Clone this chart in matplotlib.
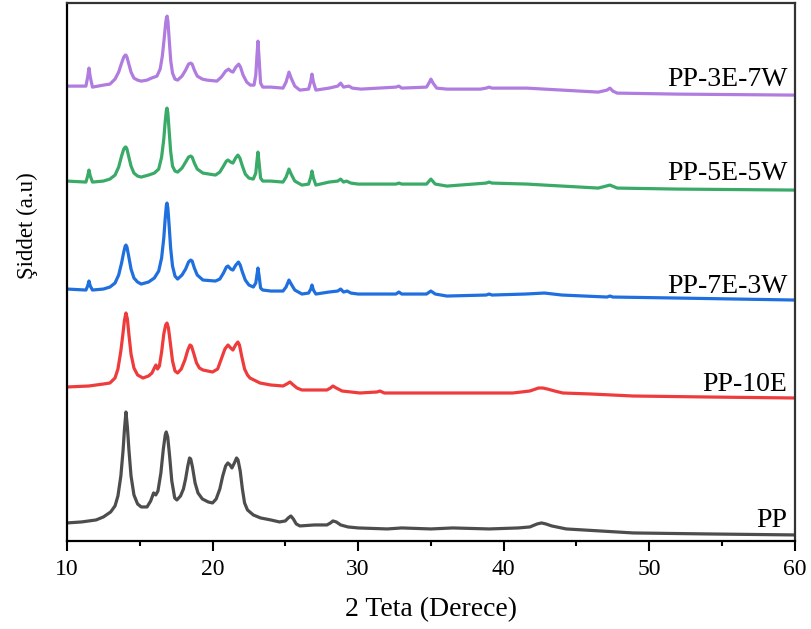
import numpy as np
import matplotlib
matplotlib.use("Agg")
import matplotlib.pyplot as plt
from matplotlib.ticker import MultipleLocator, NullLocator

plt.rcParams['font.family'] = ['Liberation Serif', 'DejaVu Serif']

# okunan egriler: (2 teta, siddet a.u.)
pp_x = [10.0, 11.0, 12.0, 12.5, 13.0, 13.3, 13.5, 13.7, 13.85, 13.95, 14.05, 14.15, 14.25, 14.4,
        14.6, 14.85, 15.1, 15.5, 15.75, 15.95, 16.1, 16.25, 16.45, 16.62, 16.75, 16.82, 16.92,
        17.05, 17.2, 17.4, 17.55, 17.8, 18.0, 18.15, 18.3, 18.42, 18.5, 18.62, 18.8, 19.0, 19.3,
        19.7, 20.0, 20.25, 20.5, 20.7, 20.9, 21.05, 21.2, 21.33, 21.5, 21.65, 21.75, 21.9, 22.05,
        22.2, 22.4, 22.8, 23.3, 24.0, 24.6, 25.0, 25.2, 25.38, 25.55, 25.75, 26.0, 27.0, 27.86,
        28.1, 28.27, 28.5, 28.8, 29.3, 30.0, 32.0, 33.0, 35.0, 36.5, 39.0, 41.0, 41.8, 42.3,
        42.6, 42.9, 43.3, 44.3, 46.6, 48.9, 54.0, 60.0]
pp_y = [18, 19, 21, 24, 29, 35, 45, 65, 90, 112, 129, 114, 92, 65,
        46, 37, 34, 34, 40, 48, 46, 50, 68, 92, 106, 109, 104,
        85, 60, 43, 41, 45, 52, 62, 75, 83, 82, 74, 58, 48, 42,
        39, 38, 42, 52, 65, 75, 78, 76, 73, 78, 83, 81, 70, 52,
        38, 31, 26, 23, 21, 19, 20, 23, 25, 22, 17, 15, 16, 16,
        18, 20, 19, 16, 14, 13, 12, 13, 12, 13, 12, 13, 14, 17,
        18, 17, 15, 12, 10, 8, 7, 6]

pp10e_x = [10.0, 11.5, 12.5, 12.95, 13.3, 13.5, 13.7, 13.85, 13.95, 14.05, 14.15, 14.25, 14.4,
           14.6, 14.85, 15.22, 15.6, 15.84, 16.0, 16.11, 16.22, 16.35, 16.5, 16.65, 16.78, 16.87,
           16.97, 17.1, 17.25, 17.42, 17.6, 17.85, 18.1, 18.3, 18.45, 18.55, 18.7, 18.9, 19.1,
           19.34, 20.0, 20.35, 20.6, 20.85, 21.06, 21.25, 21.4, 21.58, 21.74, 21.85, 22.0, 22.2,
           22.4, 22.57, 23.26, 24.0, 24.84, 25.1, 25.32, 25.55, 25.8, 26.14, 27.0, 27.86, 28.1,
           28.27, 28.5, 28.9, 30.12, 31.3, 31.5, 31.8, 35.0, 40.63, 41.8, 42.4, 42.69, 43.0,
           43.5, 44.07, 46.0, 48.87, 54.0, 60.0]
pp10e_y = [154, 155, 157, 158, 163, 172, 190, 208, 221, 228, 222, 207, 187,
           173, 166, 163, 165, 168, 173, 176, 172, 175, 189, 207, 216, 218,
           213, 198, 180, 170, 168, 172, 181, 191, 196, 195, 188, 178, 173,
           171, 169, 172, 182, 192, 196, 193, 191, 196, 199, 196, 185, 172,
           166, 163, 158, 156, 155, 157, 159, 156, 153, 151, 151, 151, 153,
           155, 153, 150, 148, 149, 150, 148, 148, 148, 150, 153, 153, 152,
           150, 148, 147, 145, 144, 143]

pp7e_x = [10.0, 11.3, 11.42, 11.51, 11.6, 11.75, 12.5, 12.95, 13.3, 13.55, 13.75, 13.9, 14.0,
          14.05, 14.12, 14.25, 14.4, 14.6, 14.85, 15.1, 15.6, 16.0, 16.3, 16.5, 16.65, 16.75,
          16.83, 16.87, 16.93, 17.02, 17.12, 17.25, 17.42, 17.6, 17.9, 18.15, 18.35, 18.5, 18.6,
          18.75, 18.95, 19.34, 20.2, 20.5, 20.75, 20.95, 21.06, 21.25, 21.4, 21.6, 21.78, 21.9,
          22.05, 22.25, 22.5, 22.8, 22.97, 23.05, 23.12, 23.2, 23.3, 23.45, 24.0, 24.84, 25.05,
          25.25, 25.4, 25.65, 26.14, 26.6, 26.75, 26.83, 26.93, 27.1, 28.0, 28.6, 28.8, 29.0,
          29.25, 29.5, 30.0, 32.6, 32.8, 33.0, 34.7, 35.0, 35.3, 36.1, 38.8, 39.0, 39.2, 41.5,
          42.8, 44.0, 47.1, 47.3, 47.5, 51.9, 60.0]
pp7e_y = [252, 251, 255, 260, 255, 251, 252, 254, 258, 266, 278, 289, 295,
          296, 294, 284, 272, 263, 259, 257, 259, 263, 270, 283, 303, 323,
          336, 338, 333, 315, 293, 275, 265, 262, 266, 272, 279, 281, 280,
          273, 266, 261, 260, 262, 268, 274, 275, 272, 271, 276, 279, 276,
          269, 261, 256, 254, 258, 266, 273, 265, 253, 251, 250, 250, 254,
          261, 257, 251, 247, 248, 252, 256, 251, 247, 249, 250, 252, 249,
          250, 248, 247, 247, 249, 247, 247, 250, 247, 245, 246, 247, 246, 247,
          248, 246, 244, 245, 244, 243, 241]

pp5e_x = [10.0, 11.3, 11.42, 11.51, 11.6, 11.75, 12.5, 12.95, 13.3, 13.55, 13.75, 13.9, 14.0,
          14.05, 14.12, 14.25, 14.4, 14.6, 14.85, 15.1, 15.6, 16.0, 16.3, 16.5, 16.65, 16.75,
          16.83, 16.87, 16.93, 17.02, 17.12, 17.25, 17.42, 17.6, 17.9, 18.15, 18.35, 18.5, 18.6,
          18.75, 18.95, 19.34, 20.2, 20.5, 20.75, 20.95, 21.06, 21.25, 21.4, 21.58, 21.74, 21.88,
          22.05, 22.25, 22.5, 22.8, 22.97, 23.05, 23.12, 23.2, 23.3, 23.45, 24.0, 24.84, 25.05,
          25.25, 25.4, 25.65, 26.14, 26.6, 26.75, 26.83, 26.93, 27.1, 28.0, 28.6, 28.8, 29.0,
          29.2, 29.5, 30.0, 32.6, 32.8, 33.0, 34.7, 35.0, 35.3, 36.1, 38.8, 39.0, 39.2, 41.6,
          42.8, 46.5, 47.3, 47.8, 51.9, 60.0]
pp5e_y = [360, 359, 365, 371, 365, 359, 360, 362, 366, 374, 385, 392, 394,
          394, 392, 384, 375, 368, 365, 364, 366, 368, 372, 384, 402, 420,
          431, 433, 428, 410, 390, 375, 370, 369, 373, 379, 384, 385, 384,
          378, 372, 368, 366, 369, 375, 380, 381, 379, 378, 383, 386, 383,
          375, 367, 363, 362, 368, 380, 389, 378, 363, 360, 360, 359, 364,
          372, 367, 360, 356, 357, 364, 370, 363, 356, 359, 360, 362, 359,
          360, 358, 357, 357, 358, 357, 357, 362, 357, 355, 358, 359, 358, 357,
          356, 353, 356, 353, 352, 351]

pp3e_x = [10.0, 11.3, 11.42, 11.51, 11.6, 11.75, 12.5, 12.95, 13.3, 13.55, 13.75, 13.9, 14.0,
          14.05, 14.12, 14.25, 14.4, 14.6, 14.85, 15.1, 15.5, 15.8, 16.18, 16.4, 16.55, 16.68,
          16.78, 16.84, 16.88, 16.94, 17.03, 17.13, 17.25, 17.42, 17.6, 17.9, 18.15, 18.35, 18.5,
          18.6, 18.75, 18.95, 19.3, 19.62, 20.3, 20.6, 20.9, 21.1, 21.25, 21.4, 21.6, 21.8, 21.92,
          22.1, 22.35, 22.6, 22.85, 22.97, 23.05, 23.12, 23.2, 23.3, 23.45, 24.0, 24.84, 25.05,
          25.25, 25.4, 25.65, 26.0, 26.6, 26.75, 26.83, 26.93, 27.1, 28.0, 28.6, 28.8, 29.0,
          29.37, 29.6, 30.2, 32.6, 32.8, 33.0, 34.7, 34.9, 35.0, 35.15, 35.4, 36.1, 38.4, 38.8,
          39.0, 39.2, 41.6, 42.8, 46.5, 47.1, 47.3, 47.5, 47.8, 51.9, 60.0]
pp3e_y = [455, 455, 464, 473, 464, 454, 456, 457, 462, 469, 478, 484, 486,
          486, 484, 477, 469, 463, 461, 460, 461, 463, 465, 472, 485, 503,
          518, 524, 525, 519, 500, 480, 468, 462, 461, 465, 471, 477, 478,
          477, 471, 465, 462, 461, 460, 464, 470, 472, 470, 469, 474, 477, 474,
          466, 459, 456, 456, 466, 485, 500, 482, 458, 454, 454, 453, 459,
          469, 463, 455, 451, 452, 460, 467, 459, 451, 453, 455, 458, 454,
          455, 453, 452, 454, 455, 453, 454, 459, 462, 458, 453, 452, 452, 453,
          454, 453, 453, 452, 449, 451, 453, 450, 448, 447, 446]

samples = ['PP', 'PP-10E', 'PP-7E-3W', 'PP-5E-5W', 'PP-3E-7W']
xs = [pp_x, pp10e_x, pp7e_x, pp5e_x, pp3e_x]
ys = [pp_y, pp10e_y, pp7e_y, pp5e_y, pp3e_y]
colors = ['#4d4d4d', '#ef3b3b', '#1f6fde', '#3aaa68', '#b07ce0']
label_y = [14, 150, 248, 361, 455]

fig = plt.figure(figsize=(8.11, 6.29), dpi=100)
ax = fig.add_axes([0.0826, 0.140, 0.8974, 0.855])

for x, y, c, name, ly in zip(xs, ys, colors, samples, label_y):
    ax.plot(x, y, color=c, lw=2.3, solid_joinstyle='round', solid_capstyle='round')
    ax.text(59.5, ly, name, ha='right', va='baseline', fontsize=20, color='black')

ax.set_xlim(10, 60)
ax.set_ylim(0, 538)
ax.xaxis.set_major_locator(MultipleLocator(10))
ax.xaxis.set_minor_locator(MultipleLocator(5))
ax.yaxis.set_major_locator(NullLocator())
ax.tick_params(axis='x', which='major', direction='out', length=7, width=1.5, labelsize=17, pad=6)
ax.tick_params(axis='x', which='minor', direction='out', length=3.5, width=1.5)
for s in ax.spines.values():
    s.set_linewidth(1.6)
ax.spines['top'].set_color('#333333')
ax.spines['right'].set_color('#333333')

ax.set_xlabel('2 Teta (Derece)', fontsize=20, labelpad=12)
ax.set_ylabel('Şiddet (a.u)', fontsize=16.5)
ax.yaxis.set_label_coords(-0.040, 0.587)

fig.savefig('out.png', dpi=100)
